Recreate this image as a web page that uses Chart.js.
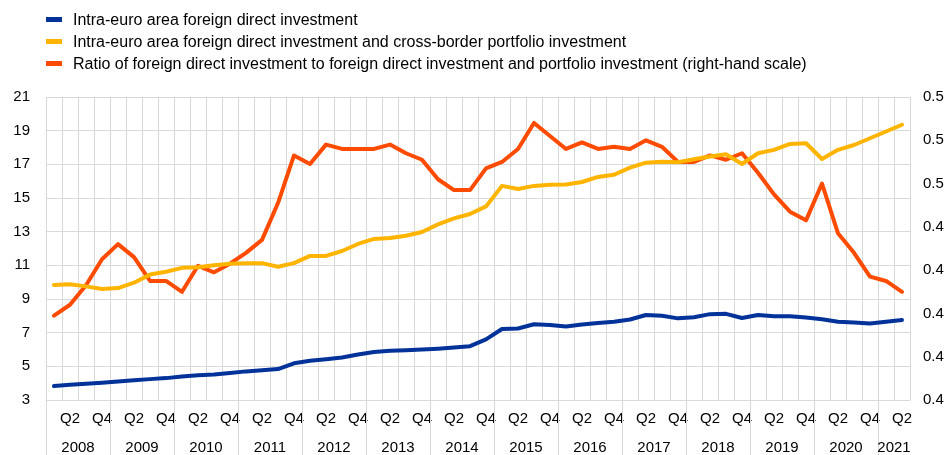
<!DOCTYPE html>
<html>
<head>
<meta charset="utf-8">
<script src="https://cdn.jsdelivr.net/npm/chart.js@4/dist/chart.umd.min.js"></script>
<style>
  html, body { margin: 0; padding: 0; background: #fff; }
  #wrap { position: relative; width: 947px; height: 455px; }
  #legend { position: absolute; left: 46px; top: 9px; font-family: Arial, "Liberation Sans", sans-serif; font-size: 16px; color: #000; }
  #legend div { height: 22px; line-height: 22px; white-space: nowrap; }
  #legend span { display: inline-block; width: 16px; height: 5px; margin-right: 11px; vertical-align: middle; position: relative; top: -1px; }
</style>
</head>
<body>
<div id="wrap">
  <canvas id="chart" width="947" height="455"></canvas>
  <div id="legend"></div>
</div>
<script>
const categories = [
    '2008 Q1', '2008 Q2', '2008 Q3', '2008 Q4', '2009 Q1', '2009 Q2', '2009 Q3', '2009 Q4',
    '2010 Q1', '2010 Q2', '2010 Q3', '2010 Q4', '2011 Q1', '2011 Q2', '2011 Q3', '2011 Q4',
    '2012 Q1', '2012 Q2', '2012 Q3', '2012 Q4', '2013 Q1', '2013 Q2', '2013 Q3', '2013 Q4',
    '2014 Q1', '2014 Q2', '2014 Q3', '2014 Q4', '2015 Q1', '2015 Q2', '2015 Q3', '2015 Q4',
    '2016 Q1', '2016 Q2', '2016 Q3', '2016 Q4', '2017 Q1', '2017 Q2', '2017 Q3', '2017 Q4',
    '2018 Q1', '2018 Q2', '2018 Q3', '2018 Q4', '2019 Q1', '2019 Q2', '2019 Q3', '2019 Q4',
    '2020 Q1', '2020 Q2', '2020 Q3', '2020 Q4', '2021 Q1', '2021 Q2'
];
const years = ['2008', '2009', '2010', '2011', '2012', '2013', '2014', '2015', '2016', '2017', '2018', '2019', '2020', '2021'];

// left-hand scale
const fdi = [
    3.83, 3.90, 3.97, 4.03, 4.10, 4.17, 4.24, 4.30,
    4.40, 4.47, 4.52, 4.60, 4.70, 4.77, 4.84, 5.18,
    5.33, 5.42, 5.52, 5.70, 5.85, 5.92, 5.96, 6.00,
    6.05, 6.12, 6.20, 6.60, 7.22, 7.25, 7.50, 7.45,
    7.37, 7.48, 7.58, 7.65, 7.78, 8.05, 8.00, 7.85,
    7.92, 8.10, 8.12, 7.87, 8.05, 7.98, 7.98, 7.90,
    7.80, 7.65, 7.60, 7.55, 7.65, 7.75
];
const fdiPortfolio = [
    9.83, 9.87, 9.75, 9.60, 9.65, 9.97, 10.45, 10.62,
    10.85, 10.88, 11.00, 11.10, 11.13, 11.13, 10.92, 11.13,
    11.56, 11.56, 11.85, 12.27, 12.57, 12.62, 12.76, 12.98,
    13.43, 13.79, 14.05, 14.50, 15.72, 15.54, 15.72, 15.78,
    15.80, 15.95, 16.25, 16.38, 16.80, 17.10, 17.15, 17.12,
    17.30, 17.46, 17.60, 17.02, 17.66, 17.86, 18.21, 18.25,
    17.32, 17.86, 18.15, 18.55, 18.95, 19.35
];
// right-hand scale
const ratio = [
    0.389, 0.394, 0.403, 0.415, 0.422, 0.416, 0.405, 0.405,
    0.400, 0.412, 0.409, 0.413, 0.418, 0.424, 0.441, 0.463,
    0.459, 0.468, 0.466, 0.466, 0.466, 0.468, 0.464, 0.461,
    0.452, 0.447, 0.447, 0.457, 0.460, 0.466, 0.478, 0.472,
    0.466, 0.469, 0.466, 0.467, 0.466, 0.470, 0.467, 0.460,
    0.460, 0.463, 0.461, 0.464, 0.455, 0.445, 0.437, 0.433,
    0.450, 0.427, 0.418, 0.407, 0.405, 0.400
];
const rightTickLabels = ['0.4', '0.4', '0.4', '0.4', '0.4', '0.5', '0.5', '0.5'];

const seriesNames = [
    'Intra-euro area foreign direct investment',
    'Intra-euro area foreign direct investment and cross-border portfolio investment',
    'Ratio of foreign direct investment to foreign direct investment and portfolio investment (right-hand scale)'
];
const colors = ['#003299', '#ffb400', '#ff4b00'];

const FONT = 'Arial, "Liberation Sans", sans-serif';
const GRID = '#d9d9d9';

// html legend, one item per line
const legend = document.getElementById('legend');
seriesNames.forEach((name, i) => {
    const row = document.createElement('div');
    row.innerHTML = '<span style="background:' + colors[i] + '"></span>' + name;
    legend.appendChild(row);
});

// year labels and separators under the quarter ticks
const yearAxis = {
    id: 'yearAxis',
    afterDraw(chart) {
        const x = chart.scales.x;
        const ctx = chart.ctx;
        const half = (x.getPixelForValue(1) - x.getPixelForValue(0)) / 2;
        const bottom = chart.chartArea.bottom;
        ctx.save();
        ctx.strokeStyle = GRID;
        ctx.lineWidth = 1;
        ctx.fillStyle = '#000';
        ctx.font = '15px ' + FONT;
        ctx.textAlign = 'center';
        ctx.textBaseline = 'middle';
        years.forEach((yr) => {
            const idx = categories.map((c, i) => c.startsWith(yr) ? i : -1).filter(i => i >= 0);
            const left = x.getPixelForValue(idx[0]) - half;
            const right = x.getPixelForValue(idx[idx.length - 1]) + half;
            ctx.beginPath();
            ctx.moveTo(Math.round(left) + 0.5, bottom);
            ctx.lineTo(Math.round(left) + 0.5, chart.height);
            ctx.stroke();
            ctx.fillText(yr, (left + right) / 2, bottom + 48);
        });
        ctx.restore();
    }
};

new Chart(document.getElementById('chart'), {
    type: 'line',
    data: {
        labels: categories,
        datasets: [
            { label: seriesNames[0], data: fdi, borderColor: colors[0], yAxisID: 'y' },
            { label: seriesNames[1], data: fdiPortfolio, borderColor: colors[1], yAxisID: 'y' },
            { label: seriesNames[2], data: ratio, borderColor: colors[2], yAxisID: 'y1' }
        ]
    },
    options: {
        responsive: false,
        animation: false,
        layout: { padding: { top: 97 } },
        elements: {
            line: { borderWidth: 4, tension: 0, borderCapStyle: 'round', borderJoinStyle: 'round' },
            point: { radius: 0 }
        },
        plugins: {
            legend: { display: false },
            tooltip: { enabled: false }
        },
        scales: {
            x: {
                offset: true,
                grid: { color: GRID, offset: true, drawTicks: false },
                border: { display: false },
                ticks: {
                    autoSkip: false,
                    maxRotation: 0,
                    padding: 10,
                    color: '#000',
                    font: { family: FONT, size: 15 },
                    callback: (v, i) => {
                        const q = categories[i].slice(5);
                        return (q === 'Q2' || q === 'Q4') ? q : '';
                    }
                },
                afterFit: (s) => { s.height = 55; }
            },
            y: {
                position: 'left',
                min: 3,
                max: 21,
                grid: { color: GRID, drawTicks: false },
                border: { display: false },
                ticks: {
                    stepSize: 2,
                    padding: 16,
                    color: '#000',
                    font: { family: FONT, size: 15 }
                },
                afterFit: (s) => { s.width = 46; }
            },
            y1: {
                position: 'right',
                min: 0.35,
                max: 0.49,
                grid: { drawOnChartArea: false, drawTicks: false },
                border: { display: false },
                ticks: {
                    stepSize: 0.02,
                    padding: 13,
                    color: '#000',
                    font: { family: FONT, size: 15 },
                    callback: (v, i) => rightTickLabels[i]
                },
                afterFit: (s) => { s.width = 37; }
            }
        }
    },
    plugins: [yearAxis]
});
</script>
</body>
</html>
